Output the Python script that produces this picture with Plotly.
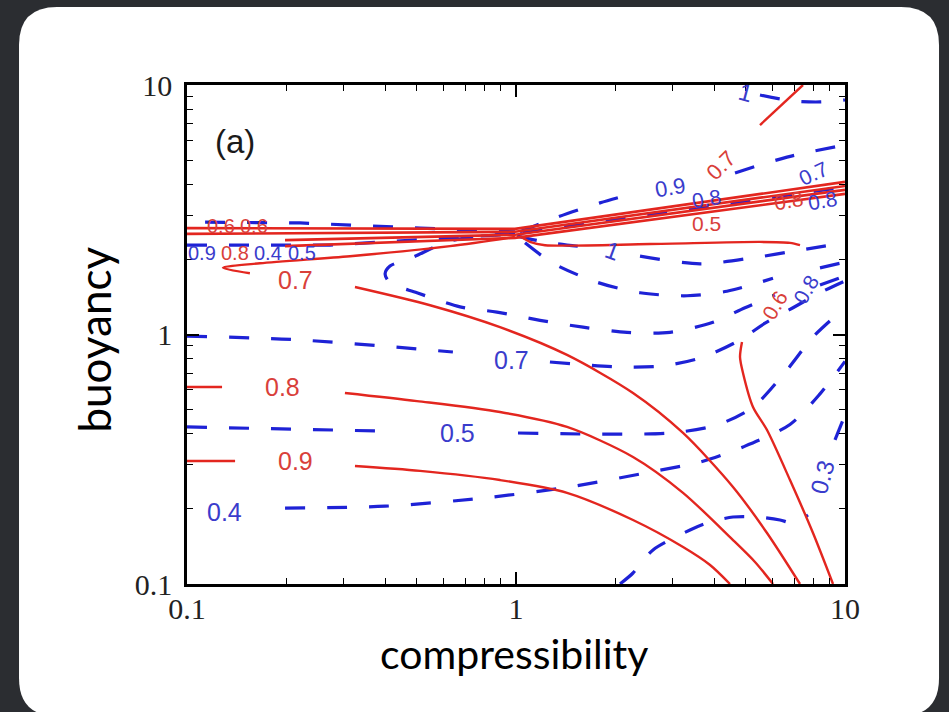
import numpy as np
import plotly.graph_objects as go

# ---- contour lines of the two fields (compressibility, buoyancy) ----
# red solid family
red_09_x = [0.1, 0.140, None, 0.324, 0.511, 0.894, 1.429, 2.268, 3.219, 3.889, 4.471]
red_09_y = [0.311, 0.311, None, 0.297, 0.284, 0.261, 0.232, 0.1805, 0.1407, 0.1192, 0.1]

red_08_x = [0.1, 0.1278, None, 0.302, 0.5, 0.894, 1.429, 2.268, 3.219, 4.566, 5.326, 6.042]
red_08_y = [0.616, 0.616, None, 0.583, 0.541, 0.489, 0.426, 0.323, 0.232, 0.150, 0.1225, 0.1]

red_07_x = [0.993, 0.630, 0.313, 0.1667, 0.1286, 0.1553, None,
            0.324, 0.548, 0.894, 1.429, 2.268, 3.219, 4.566, 5.794, 7.298]
red_07_y = [2.46, 2.26, 2.06, 1.93, 1.85, 1.76, None,
            1.55, 1.31, 1.07, 0.828, 0.583, 0.403, 0.245, 0.1601, 0.1]

red_right_x = [4.863, 4.796, 4.897, 5.252, 5.794, 6.805, 7.994, 9.195]
red_right_y = [0.933, 0.812, 0.701, 0.512, 0.414, 0.261, 0.1601, 0.1]

red_top_x = [5.516, 7.452]
red_top_y = [6.91, 10.0]

red_under_x = [1.028, 1.103, 1.225, 2.555, 5.516, 6.805, 7.298]
red_under_y = [2.48, 2.35, 2.28, 2.305, 2.35, 2.33, 2.28]

# tightly packed red lines meeting near compressibility ~ 1
red_band_x = [
    [0.1, 0.993, 10.0],
    [0.1, 0.993, 10.0],
    [0.1986, 0.993, 10.0],
    [0.1986, 0.993, 10.0],
]
red_band_y = [
    [2.67, 2.65, 4.09],
    [2.53, 2.58, 3.94],
    [2.39, 2.51, 3.80],
    [2.26, 2.44, 3.66],
]

# blue dashed family
blue_top_x = [0.1135, 0.2206, 0.511, 0.993]
blue_top_y = [2.82, 2.80, 2.67, 2.58]

blue_band_x = [0.1, 0.272, 0.993, 10.0]
blue_band_y = [2.28, 2.28, 2.53, 3.90]

blue_09_x = [1.028, 1.342, 1.800, 2.300, None, 4.631, 6.663, 10.0]
blue_09_y = [2.58, 2.96, 3.37, 3.69, None, 4.44, 5.14, 5.75]

blue_10_x = [1.007, 1.225, 1.621, None, 2.382, 3.625, 5.252, 7.298, 10.0]
blue_10_y = [2.48, 2.35, 2.24, None, 2.06, 1.92, 2.03, 2.18, 2.33]

blue_10b_x = [5.516, 6.950, 8.395, 10.0]
blue_10b_y = [9.12, 8.63, 8.55, 8.71]

blue_a_x = [0.993, 0.630, 0.486, 0.414, 0.400, 0.414, 0.5, 0.676, 0.875, 1.183,
            1.598, 2.175, 2.938, 3.970, 4.966, 6.127, None, 8.395, 10.0]
blue_a_y = [2.55, 2.37, 2.04, 1.88, 1.75, 1.61, 1.47, 1.29, 1.23, 1.14,
            1.07, 1.02, 1.02, 1.12, 1.28, 1.44, None, 1.58, 1.716]

blue_s1_x = [1.065, 1.296, 1.763, 2.382, 3.310, 4.378, 6.042, None, 8.395, 10.0]
blue_s1_y = [2.33, 1.93, 1.62, 1.47, 1.43, 1.49, 1.68, None, 1.85, 1.95]

blue_07_x = [0.1, 0.2206, 0.643, None, 1.268, 2.071, 2.798, 3.702, 4.796, 5.713, 6.950, 8.395, 10.0]
blue_07_y = [0.986, 0.951, 0.851, None, 0.776, 0.741, 0.748, 0.812, 0.951, 1.11, 1.28, 1.47, 1.64]

blue_05_x = [0.1, 0.400, None, 1.014, 2.938, 4.083, 5.252, 6.663, 7.994, 10.0]
blue_05_y = [0.426, 0.410, None, 0.403, 0.403, 0.434, 0.512, 0.721, 0.977, 1.28]

blue_04_x = [0.1986, 0.400, 0.794, 1.459, 2.740, 3.625, 4.897, 6.805, 8.395, 10.0]
blue_04_y = [0.2016, 0.205, 0.221, 0.245, 0.286, 0.308, 0.354, 0.436, 0.578, 0.78]

blue_03_x = [2.071, 2.268, 2.609, 3.380, 3.806, 4.566, 5.402, 6.345, 6.950, 7.72, None, 9.325, 10.0]
blue_03_y = [0.1, 0.1107, 0.1369, 0.1646, 0.1756, 0.1856, 0.1856, 0.1805, 0.1756, 0.189, None, 0.378, 0.476]

# contour level labels: text, colour family, compressibility, buoyancy, angle, size
labels = [
    ("0.7", "r", 0.2130, 1.65, 0, 25), ("0.8", "r", 0.1945, 0.616, 0, 25),
    ("0.9", "r", 0.2130, 0.311, 0, 25),
    ("0.7", "b", 0.972, 0.790, 0, 25), ("0.5", "b", 0.666, 0.403, 0, 25),
    ("0.4", "b", 0.1304, 0.1944, 0, 25),
    ("0.3", "b", 8.57, 0.2685, -75, 24),
    # crowded group above the band, right of centre
    ("0.9", "b", 2.95, 3.87, -10, 22), ("0.7", "r", 4.20, 4.75, -45, 22),
    ("0.8", "b", 3.80, 3.50, -10, 21), ("0.5", "r", 3.80, 2.78, 0, 21),
    # crowded group at the right edge
    ("0.7", "b", 8.00, 4.40, -25, 21), ("0.8", "r", 6.75, 3.45, -10, 21),
    ("0.8", "b", 8.55, 3.45, -10, 21),
    ("0.6", "r", 6.10, 1.31, -60, 21), ("0.8", "b", 7.60, 1.52, -60, 21),
    ("1", "b", 1.958, 2.18, 20, 24), ("1", "b", 5.00, 9.37, 15, 24),
    # crowded group on the left edge of the band
    ("0.6", "r", 0.1265, 2.72, 0, 20), ("0.6", "r", 0.1600, 2.72, 0, 20),
    ("0.9", "b", 0.1110, 2.12, 0, 20), ("0.8", "r", 0.1400, 2.12, 0, 20),
    ("0.4", "b", 0.1760, 2.12, 0, 20), ("0.5", "b", 0.2240, 2.12, 0, 20),
]

x_ticks = [0.1, 1, 10]
y_ticks = [0.1, 1, 10]
tick_text = ["0.1", "1", "10"]
minor_ticks = [0.2, 0.3, 0.4, 0.5, 0.6, 0.7, 0.8, 0.9, 2, 3, 4, 5, 6, 7, 8, 9]

RED = "#e3261f"
BLUE = "#1e22d6"
RED_TXT = "#d9403a"
BLUE_TXT = "#3a3ccc"
DASH = "20px,22px"

fig = go.Figure()

def add_line(x, y, color, width, dash="solid", smooth=True):
    fig.add_trace(go.Scatter(
        x=x, y=y, mode="lines", connectgaps=False,
        line=dict(color=color, width=width, dash=dash,
                  shape="spline" if smooth else "linear", smoothing=0.8),
        hoverinfo="skip", showlegend=False))

# blue dashed contours
for bx, by in [(blue_09_x, blue_09_y), (blue_10_x, blue_10_y), (blue_10b_x, blue_10b_y),
               (blue_a_x, blue_a_y), (blue_s1_x, blue_s1_y), (blue_07_x, blue_07_y),
               (blue_05_x, blue_05_y), (blue_04_x, blue_04_y), (blue_03_x, blue_03_y)]:
    add_line(bx, by, BLUE, 3.2, DASH)
for bx, by in [(blue_top_x, blue_top_y), (blue_band_x, blue_band_y)]:
    add_line(bx, by, BLUE, 3.2, DASH, smooth=False)

# red solid contours
for rx, ry in [(red_09_x, red_09_y), (red_08_x, red_08_y), (red_07_x, red_07_y),
               (red_right_x, red_right_y), (red_under_x, red_under_y)]:
    add_line(rx, ry, RED, 2.4)
add_line(red_top_x, red_top_y, RED, 2.4, smooth=False)
for rx, ry in zip(red_band_x, red_band_y):
    add_line(rx, ry, RED, 2.6, smooth=False)

annotations = []
for text, fam, lx, ly, ang, size in labels:
    annotations.append(dict(
        x=np.log10(lx), y=np.log10(ly), xref="x", yref="y", text=text, showarrow=False,
        textangle=ang, xanchor="center", yanchor="middle",
        font=dict(family="Liberation Sans, Arial, sans-serif", size=size,
                  color=RED_TXT if fam == "r" else BLUE_TXT)))

annotations += [
    dict(x=0.073, y=0.886, xref="paper", yref="paper", text="(a)", showarrow=False,
         xanchor="center", yanchor="middle",
         font=dict(family="Liberation Sans, Arial, sans-serif", size=33, color="#1a1a1a")),
    dict(x=0.497, y=-0.1383, xref="paper", yref="paper", text="compressibility", showarrow=False,
         xanchor="center", yanchor="middle",
         font=dict(family="Lato, sans-serif", size=41, color="#000000")),
    dict(x=-0.142, y=0.489, xref="paper", yref="paper", text="buoyancy", showarrow=False,
         textangle=-90, xanchor="center", yanchor="middle",
         font=dict(family="Lato, sans-serif", size=44, color="#000000")),
]

# rounded white card behind the plot (paper coordinates)
x0, x1 = -0.2553, 1.1429
yt, yb = 1.1563, -0.2645
rx, ry = 0.0578, 0.0762
card = (f"M {x0+rx},{yt} L {x1-rx},{yt} Q {x1},{yt} {x1},{yt-ry} "
        f"L {x1},{yb+ry} Q {x1},{yb} {x1-rx},{yb} L {x0+rx},{yb} "
        f"Q {x0},{yb} {x0},{yb+ry} L {x0},{yt-ry} Q {x0},{yt} {x0+rx},{yt} Z")

axis_common = dict(
    type="log", showgrid=False, zeroline=False, showline=True, linecolor="#000000",
    linewidth=2.6, mirror="ticks", ticks="inside", ticklen=12, tickwidth=1.6,
    tickcolor="#000000", tickfont=dict(family="Liberation Serif, Times New Roman, serif",
                                       size=30, color="#222222"),
    minor=dict(tickvals=minor_ticks, ticks="inside", ticklen=6, tickwidth=1.3,
               tickcolor="#000000"),
)

fig.update_layout(
    width=949, height=712,
    margin=dict(l=187, r=104, t=85, b=128),
    paper_bgcolor="#2b2d31", plot_bgcolor="#ffffff",
    xaxis=dict(range=[-1, 1], tickvals=x_ticks, ticktext=tick_text,
               ticklabelstandoff=-4, **axis_common),
    yaxis=dict(range=[-1, 1], tickvals=y_ticks, ticktext=tick_text,
               ticklabelstandoff=6, **axis_common),
    shapes=[dict(type="path", path=card, xref="paper", yref="paper",
                 fillcolor="#ffffff", line=dict(width=0), layer="below")],
    annotations=annotations,
)

fig.write_html("out.html")
